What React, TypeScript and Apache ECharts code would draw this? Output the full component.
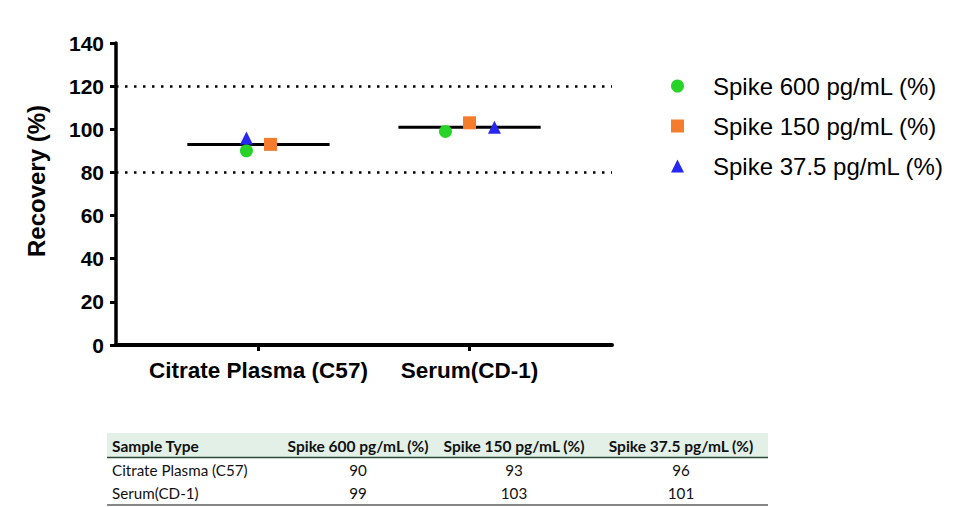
import React, { useEffect, useRef } from "react";
import * as echarts from "echarts";

const categories = ["Citrate Plasma (C57)", "Serum(CD-1)"];
const seriesNames = ["Spike 600 pg/mL (%)", "Spike 150 pg/mL (%)", "Spike 37.5 pg/mL (%)"];
const spike600 = [90, 99];
const spike150 = [93, 103];
const spike375 = [96, 101];
const refLines = [80, 120];
const tableHeader = ["Sample Type", ...seriesNames];

const colors = ["#27d327", "#f57c2c", "#2727f2"];
const symbols = ["circle", "rect", "triangle"];
const symbolSizes = [13, 13, 13];
// horizontal scatter offsets (axis units) per series, per category
const jitter = [
  [-0.057, -0.114],
  [0.057, 0],
  [-0.057, 0.118],
];

const FONT = "'Liberation Sans', Arial, sans-serif";
const TFONT = "Lato, 'Open Sans', sans-serif";

export default function App() {
  const ref = useRef<HTMLDivElement>(null);
  useEffect(() => {
    if (!ref.current) return;
    const chart = echarts.init(ref.current, null, { renderer: "svg" });
    const allSeries = [spike600, spike150, spike375];
    const means = categories.map(
      (_, i) => allSeries.reduce((s, arr) => s + arr[i], 0) / allSeries.length
    );

    const scatterSeries = allSeries.map((vals, si) => ({
      name: seriesNames[si],
      type: "scatter",
      symbol: symbols[si],
      symbolSize: symbolSizes[si],
      itemStyle: { color: colors[si], opacity: 1 },
      z: 5,
      data: vals.map((v, ci) => [ci + 1 + jitter[si][ci], v]),
      ...(si === 0
        ? {
            markLine: {
              silent: true,
              symbol: "none",
              label: { show: false },
              lineStyle: { color: "#000", width: 2.5, type: [2.5, 6.5] },
              data: refLines.map((y) => ({ yAxis: y })),
            },
          }
        : {}),
    }));

    const meanSeries = categories.map((c, ci) => ({
      name: "mean-" + c,
      type: "line",
      symbol: "none",
      silent: true,
      z: 3,
      lineStyle: { color: "#000", width: 3 },
      data: [
        [ci + 1 - 0.337, means[ci]],
        [ci + 1 + 0.337, means[ci]],
      ],
    }));

    // table
    const tLeft = 107;
    const tRight = 768;
    const colCenters = [0, 358, 514, 681];
    const headerTop = 433;
    const headerH = 24;
    const rowYs = [470, 493];
    const rows = categories.map((c, i) => [c, spike600[i], spike150[i], spike375[i]]);
    const tableGraphics: any[] = [
      {
        type: "rect",
        shape: { x: tLeft, y: headerTop, width: tRight - tLeft, height: headerH },
        style: { fill: "#e2f0e8" },
        silent: true,
      },
      {
        type: "line",
        shape: { x1: tLeft, y1: headerTop + headerH + 0.5, x2: tRight, y2: headerTop + headerH + 0.5 },
        style: { stroke: "#2b4a3a", lineWidth: 1.5 },
        silent: true,
      },
      {
        type: "line",
        shape: { x1: tLeft, y1: 505, x2: tRight, y2: 505 },
        style: { stroke: "#111", lineWidth: 1.2 },
        silent: true,
      },
    ];
    tableHeader.forEach((h, i) => {
      tableGraphics.push({
        type: "text",
        x: i === 0 ? 112 : colCenters[i],
        y: headerTop + headerH / 2 + 1,
        silent: true,
        style: {
          text: h,
          font: `bold 15.5px ${TFONT}`,
          fill: "#111",
          align: i === 0 ? "left" : "center",
          verticalAlign: "middle",
        },
      });
    });
    rows.forEach((r, ri) => {
      r.forEach((cell, i) => {
        tableGraphics.push({
          type: "text",
          x: i === 0 ? 112 : colCenters[i],
          y: rowYs[ri],
          silent: true,
          style: {
            text: String(cell),
            font: `15.2px ${TFONT}`,
            fill: "#111",
            align: i === 0 ? "left" : "center",
            verticalAlign: "middle",
          },
        });
      });
    });

    chart.setOption({
      animation: false,
      backgroundColor: "#fff",
      grid: { left: 116, right: 360, top: 43, bottom: 162, containLabel: false },
      legend: {
        data: seriesNames.map((n, i) => ({ name: n, icon: symbols[i] })),
        orient: "vertical",
        left: 666,
        top: 68,
        itemWidth: 13,
        itemHeight: 13,
        itemGap: 14,
        selectedMode: false,
        textStyle: {
          fontFamily: FONT,
          fontSize: 24,
          color: "#000",
          lineHeight: 26,
          padding: [0, 0, 0, 24],
        },
      },
      xAxis: {
        type: "value",
        min: 0.325,
        max: 2.675,
        splitLine: { show: false },
        axisLine: { show: true, onZero: false, lineStyle: { color: "#000", width: 4 } },
        axisTick: {
          show: true,
          customValues: [1, 2],
          length: 6,
          lineStyle: { color: "#000", width: 3 },
        },
        axisLabel: {
          show: true,
          customValues: [1, 2],
          margin: 14,
          formatter: (v: number) => categories[Math.round(v) - 1] ?? "",
          fontFamily: FONT,
          fontWeight: "bold",
          fontSize: 22.5,
          color: "#000",
        },
      },
      yAxis: {
        type: "value",
        min: 0,
        max: 140,
        interval: 20,
        name: "Recovery (%)",
        nameLocation: "middle",
        nameGap: 68,
        nameTextStyle: {
          fontFamily: FONT,
          fontWeight: "bold",
          fontSize: 24,
          color: "#000",
          padding: [0, 0, 0, 26],
        },
        splitLine: { show: false },
        axisLine: { show: true, onZero: false, lineStyle: { color: "#000", width: 3.5 } },
        axisTick: { show: true, inside: false, length: 6, lineStyle: { color: "#000", width: 3 } },
        axisLabel: {
          margin: 12,
          fontFamily: FONT,
          fontWeight: "bold",
          fontSize: 21,
          color: "#000",
        },
      },
      series: [...meanSeries, ...scatterSeries],
      graphic: tableGraphics,
    });
    return () => chart.dispose();
  }, []);
  return (
    <div
      ref={ref}
      style={{ position: "fixed", left: 0, top: 0, width: 972, height: 507, background: "#fff" }}
    />
  );
}
